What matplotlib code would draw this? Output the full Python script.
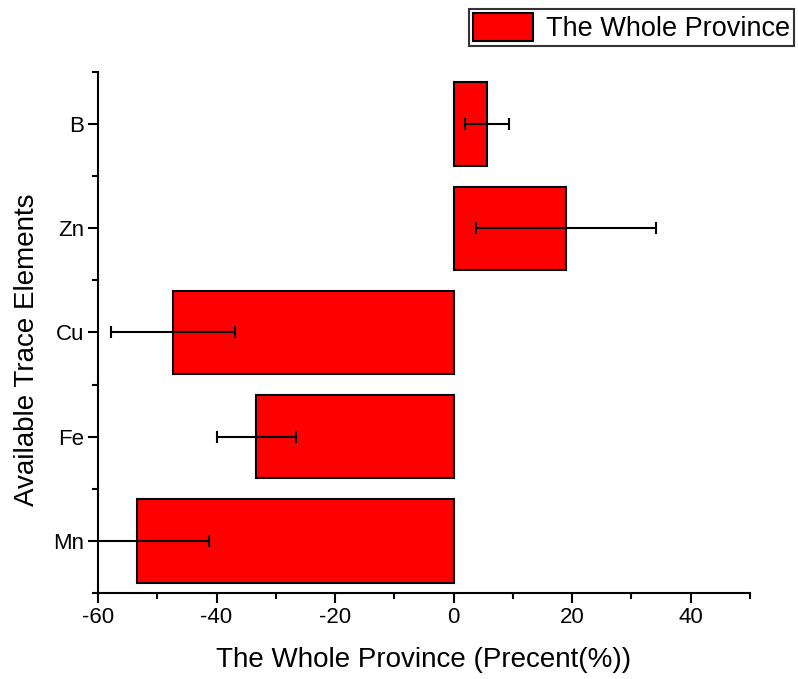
import numpy as np
import matplotlib
matplotlib.use("Agg")
import matplotlib.pyplot as plt
from matplotlib.ticker import MultipleLocator

plt.rcParams["font.family"] = ["Liberation Sans", "DejaVu Sans"]
plt.rcParams["axes.unicode_minus"] = False

elements = ["Mn", "Fe", "Cu", "Zn", "B"]
percent = [-53.4, -33.3, -47.3, 18.9, 5.6]
errors = [12.2, 6.7, 10.5, 15.2, 3.7]

fig = plt.figure(figsize=(7.98, 6.79), dpi=100)
ax = fig.add_axes([0.1228, 0.1267, 0.8170, 0.7673])

pos = np.arange(len(elements))
ax.barh(pos, percent, height=0.8, color="#ff0000", edgecolor="black",
        linewidth=1.5, label="The Whole Province")
ax.errorbar(percent, pos, xerr=errors, fmt="none", ecolor="black",
            elinewidth=1.5, capsize=4, capthick=1.5)

ax.set_xlim(-60, 50)
ax.set_ylim(-0.5, 4.5)
ax.set_yticks(pos)
ax.set_yticklabels(elements)
ax.xaxis.set_major_locator(MultipleLocator(20))
ax.xaxis.set_minor_locator(MultipleLocator(10))
ax.set_yticks(np.arange(-0.5, 4.6, 1.0), minor=True)

for s in ["top", "right"]:
    ax.spines[s].set_visible(False)
for s in ["left", "bottom"]:
    ax.spines[s].set_linewidth(1.5)

ax.tick_params(which="major", length=7, width=1.5, labelsize=16, pad=3)
ax.tick_params(which="minor", length=4, width=1.5)

ax.set_xlabel("The Whole Province (Precent(%))", fontsize=20, labelpad=14)
ax.set_ylabel("Available Trace Elements", fontsize=20)
ax.yaxis.set_label_coords(-0.089, 0.466)

fig.legend(loc="upper left", bbox_to_anchor=(469 / 798, 1 - 9 / 679),
           fontsize=19.5, frameon=True, fancybox=False, edgecolor="black",
           handlelength=2.2, handleheight=1.2, handletextpad=0.5,
           borderpad=0.15, borderaxespad=0)
fig.legends[0].get_frame().set_linewidth(1.5)

plt.savefig("out.png", dpi=100)
